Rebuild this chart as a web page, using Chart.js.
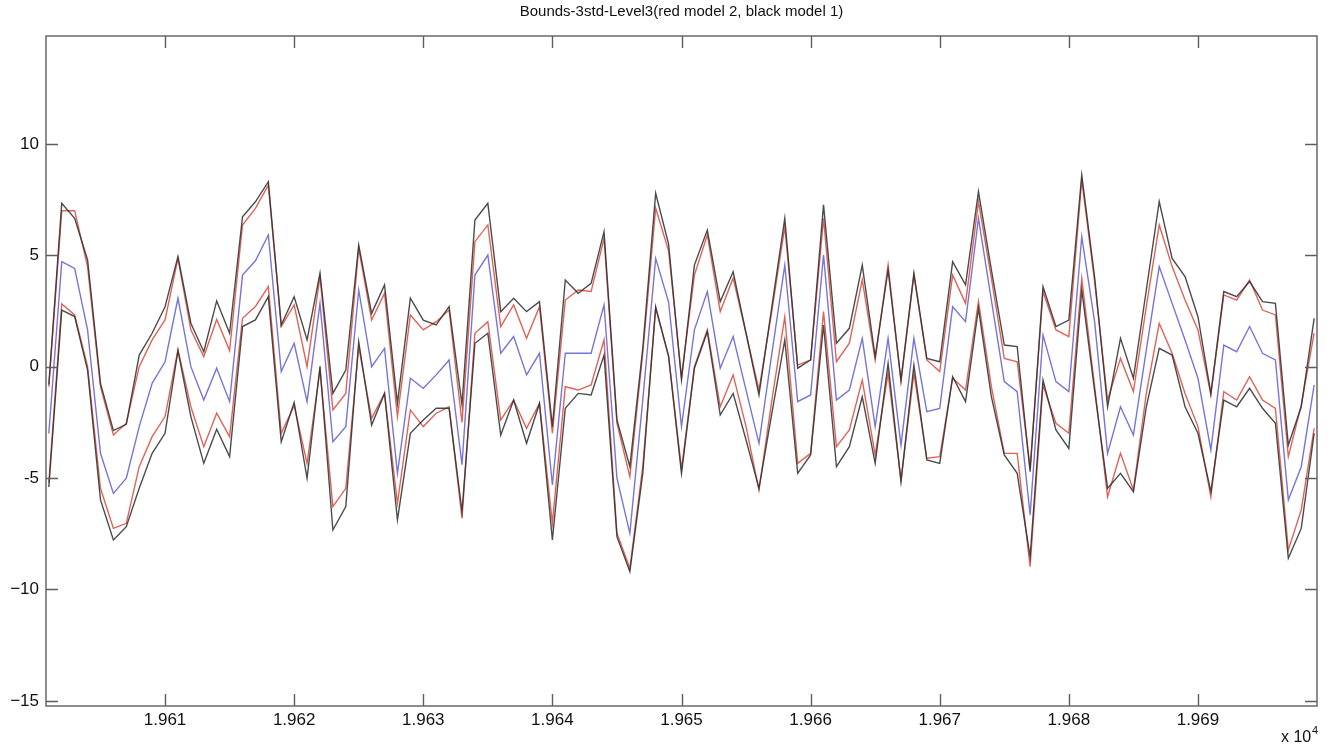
<!DOCTYPE html>
<html>
<head>
<meta charset="utf-8">
<script src="https://cdn.jsdelivr.net/npm/chart.js@4/dist/chart.umd.min.js"></script>
<style>
html,body{margin:0;padding:0;background:#fff;}
#wrap{width:1337px;height:751px;position:relative;}
</style>
</head>
<body>
<div id="wrap"><canvas id="c" width="1337" height="751"></canvas></div>
<script>
const titleText = "Bounds-3std-Level3(red model 2, black model 1)";
const xValues = [19601,19602,19603,19604,19605,19606,19607,19608,19609,19610,
19611,19612,19613,19614,19615,19616,19617,19618,19619,19620,
19621,19622,19623,19624,19625,19626,19627,19628,19629,19630,
19631,19632,19633,19634,19635,19636,19637,19638,19639,19640,
19641,19642,19643,19644,19645,19646,19647,19648,19649,19650,
19651,19652,19653,19654,19655,19656,19657,19658,19659,19660,
19661,19662,19663,19664,19665,19666,19667,19668,19669,19670,
19671,19672,19673,19674,19675,19676,19677,19678,19679,19680,
19681,19682,19683,19684,19685,19686,19687,19688,19689,19690,
19691,19692,19693,19694,19695,19696,19697,19698,19699];

const blackUpper = [-0.8,7.33,6.66,4.79,-0.75,-2.87,-2.59,0.52,1.5,2.69,
4.94,1.95,0.67,2.95,1.5,6.73,7.4,8.3,1.87,3.14,
1.2,4.19,-1.2,-0.15,5.46,2.39,3.67,-1.65,3.07,2.09,
1.87,2.69,-1.7,6.58,7.33,2.47,3.07,2.47,2.92,-2.69,
3.89,3.29,3.74,6.06,-2.39,-4.49,0.82,7.78,5.5,-0.6,
4.56,6.13,2.92,4.26,1.5,-1.27,2.69,6.66,-0.07,0.3,
7.26,1.05,1.72,4.56,0.45,4.34,-0.6,4.19,0.37,0.22,
4.71,3.67,7.85,4.34,0.97,0.9,-4.71,3.59,1.8,2.09,
8.6,4.0,-1.8,1.27,-0.52,3.44,7.41,4.86,4.04,2.24,
-1.2,3.37,3.14,3.82,2.92,2.84,-3.52,-1.8,2.17];

const redUpper = [-0.9,7.0,7.0,4.49,-0.9,-3.07,-2.54,0.0,1.2,2.1,
4.86,1.65,0.45,2.12,0.72,6.36,7.1,8.15,1.8,2.77,
0.0,4.04,-1.94,-1.2,5.31,2.09,3.29,-2.24,2.32,1.65,
2.02,2.54,-2.5,5.61,6.36,1.8,2.77,1.27,2.69,-2.99,
2.99,3.44,3.37,5.76,-2.54,-4.94,0.6,7.11,5.2,-0.45,
4.11,5.91,2.47,3.97,1.5,-1.05,2.5,6.28,0.07,0.3,
6.66,0.22,1.05,3.89,0.3,4.56,-0.67,4.11,0.3,-0.22,
4.11,2.84,7.41,3.97,0.37,0.22,-4.56,3.37,1.65,1.35,
8.38,3.8,-1.5,0.37,-1.12,2.69,6.36,4.49,2.99,1.65,
-1.27,3.22,2.99,3.89,2.54,2.32,-4.04,-1.72,1.5];

const meanLine = [-3.0,4.71,4.41,1.65,-3.89,-5.69,-5.01,-2.69,-0.75,0.22,
3.07,0.0,-1.5,-0.07,-1.57,4.11,4.75,5.91,-0.22,1.05,
-1.57,2.84,-3.37,-2.69,3.44,0.0,0.82,-4.79,-0.52,-0.97,
-0.37,0.3,-4.4,4.11,5.01,0.6,1.35,-0.37,0.6,-5.31,
0.6,0.6,0.6,2.77,-5.0,-7.48,-1.5,4.86,2.9,-2.69,
1.65,3.37,-0.07,1.35,-1.05,-3.44,0.6,4.56,-1.57,-1.27,
5.01,-1.5,-1.05,1.27,-2.69,1.27,-3.52,1.27,-2.02,-1.87,
2.69,2.02,6.66,2.99,-0.67,-1.12,-6.66,1.42,-0.67,-1.12,
5.83,2.0,-3.89,-1.8,-3.07,0.75,4.49,2.84,1.2,-0.52,
-3.74,0.97,0.67,1.8,0.6,0.3,-5.98,-4.49,-0.82];

const redLower = [-5.2,2.81,2.32,0.0,-5.46,-7.26,-7.03,-4.49,-3.14,-2.24,
0.75,-1.8,-3.59,-2.09,-3.14,2.17,2.7,3.59,-2.99,-1.75,
-4.34,-0.15,-6.28,-5.46,0.9,-2.32,-1.2,-6.13,-1.94,-2.69,
-2.09,-1.8,-6.8,1.5,2.02,-2.39,-1.5,-2.77,-1.65,-7.03,
-0.9,-1.05,-0.82,1.2,-7.48,-9.05,-4.49,2.62,0.5,-4.6,
0.0,1.65,-1.8,-0.37,-2.69,-5.54,-1.5,2.24,-4.34,-3.89,
2.47,-3.59,-2.84,-0.6,-3.96,-0.3,-5.09,-0.3,-4.11,-4.04,
-0.52,-1.05,2.92,-0.9,-3.89,-3.89,-8.98,-0.82,-2.54,-2.99,
3.96,-0.9,-5.84,-3.89,-5.54,-1.2,1.94,0.6,-1.2,-2.69,
-5.84,-1.12,-1.5,-0.45,-1.5,-1.87,-8.23,-6.43,-2.77];

const blackLower = [-5.4,2.54,2.25,-0.15,-5.98,-7.78,-7.18,-5.46,-3.89,-2.99,
0.72,-2.24,-4.34,-2.81,-4.04,1.8,2.1,3.14,-3.37,-1.6,
-5.01,0.0,-7.33,-6.28,1.12,-2.62,-1.2,-6.88,-2.99,-2.39,
-1.87,-1.87,-6.5,1.05,1.5,-3.07,-1.5,-3.44,-1.65,-7.78,
-1.87,-1.2,-1.27,0.52,-7.63,-9.2,-4.79,2.69,0.45,-4.79,
-0.07,1.57,-2.17,-1.2,-3.29,-5.46,-2.09,1.2,-4.79,-3.96,
1.87,-4.49,-3.59,-1.35,-4.34,0.15,-5.16,0.07,-4.19,-4.34,
-0.45,-1.57,2.62,-1.35,-3.96,-4.79,-8.53,-0.6,-2.84,-3.67,
3.44,-1.1,-5.46,-4.79,-5.61,-1.8,0.82,0.52,-1.8,-2.99,
-5.61,-1.5,-1.8,-0.97,-1.87,-2.54,-8.6,-7.26,-2.99];

const xTickValues = [19610,19620,19630,19640,19650,19660,19670,19680,19690];
const xTickLabels = ["1.961","1.962","1.963","1.964","1.965","1.966","1.967","1.968","1.969"];
const yTickValues = [-15,-10,-5,0,5,10];
const yTickLabels = ["\u221215","\u221210","-5","0","5","10"];
const xMin = 19600.78, xMax = 19699.22;
const yMin = -15.23, yMax = 14.84;

function pts(arr){ return xValues.map((x,i)=>({x:x,y:arr[i]})); }

const BLACK = 'rgba(50,50,50,0.88)';
const RED = 'rgba(220,92,80,0.95)';
const BLUE = 'rgba(112,110,214,0.95)';

const boxPlugin = {
  id:'box',
  afterDraw(chart){
    const ctx = chart.ctx, a = chart.chartArea;
    const xs = chart.scales.x, ys = chart.scales.y;
    ctx.save();
    ctx.strokeStyle = '#5e5e5e';
    ctx.lineWidth = 1.4;
    ctx.strokeRect(a.left, a.top, a.right - a.left, a.bottom - a.top);
    const tl = 12;
    ctx.beginPath();
    xTickValues.forEach(v=>{
      const p = Math.round(xs.getPixelForValue(v))+0.5;
      ctx.moveTo(p, a.bottom); ctx.lineTo(p, a.bottom - tl);
      ctx.moveTo(p, a.top); ctx.lineTo(p, a.top + tl);
    });
    yTickValues.forEach(v=>{
      const p = Math.round(ys.getPixelForValue(v))+0.5;
      ctx.moveTo(a.left, p); ctx.lineTo(a.left + tl, p);
      ctx.moveTo(a.right, p); ctx.lineTo(a.right - tl, p);
    });
    ctx.stroke();
    // title
    ctx.fillStyle = '#111';
    ctx.font = '15px "Liberation Sans", Arial, sans-serif';
    ctx.textAlign = 'center';
    ctx.textBaseline = 'alphabetic';
    ctx.fillText(titleText, (a.left + a.right)/2, 16);
    // exponent label
    ctx.textAlign = 'left';
    ctx.font = '16px "Liberation Sans", Arial, sans-serif';
    ctx.fillText('x 10', 1281, 742);
    ctx.font = '11px "Liberation Sans", Arial, sans-serif';
    ctx.fillText('4', 1312, 734);
    ctx.restore();
  }
};

const mk = (label, arr, color) => ({
  label, data: pts(arr), borderColor: color, backgroundColor: color,
  borderWidth: 1.4, pointRadius: 0, tension: 0, fill: false
});

new Chart(document.getElementById('c'), {
  type: 'line',
  data: {
    datasets: [
      mk('model 1 upper', blackUpper, BLACK),
      mk('model 1 lower', blackLower, BLACK),
      mk('model 2 upper', redUpper, RED),
      mk('model 2 lower', redLower, RED),
      mk('mean', meanLine, BLUE)
    ]
  },
  options: {
    responsive: false,
    animation: false,
    layout: { padding: { top: 36, right: 20, left: 0, bottom: 0 } },
    plugins: { legend: { display: false }, title: { display: false }, tooltip: { enabled: false } },
    scales: {
      x: {
        type: 'linear', min: xMin, max: xMax,
        border: { display: false },
        grid: { display: false, drawTicks: false },
        afterBuildTicks: s => { s.ticks = xTickValues.map(v=>({value:v})); },
        afterFit: s => { s.height = 45; },
        ticks: {
          autoSkip: false, maxRotation: 0, padding: 4, color: '#111',
          font: { family: '"Liberation Sans", Arial, sans-serif', size: 17 },
          callback: (v) => { const i = xTickValues.indexOf(v); return i >= 0 ? xTickLabels[i] : ''; }
        }
      },
      y: {
        type: 'linear', min: yMin, max: yMax,
        border: { display: false },
        grid: { display: false, drawTicks: false },
        afterBuildTicks: s => { s.ticks = yTickValues.map(v=>({value:v})); },
        afterFit: s => { s.width = 46; },
        ticks: {
          autoSkip: false, padding: 7, color: '#111',
          font: { family: '"Liberation Sans", Arial, sans-serif', size: 17 },
          callback: (v) => { const i = yTickValues.indexOf(v); return i >= 0 ? yTickLabels[i] : ''; }
        }
      }
    }
  },
  plugins: [boxPlugin]
});
</script>
</body>
</html>
